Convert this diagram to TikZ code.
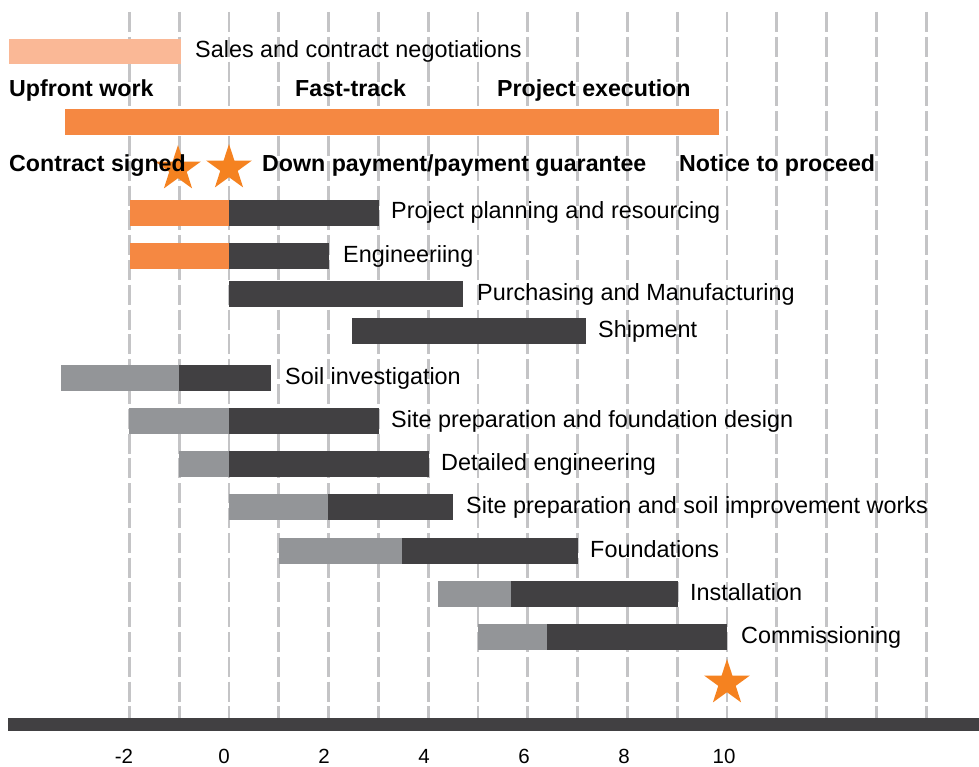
\documentclass[tikz,border=0pt]{standalone}
\usepackage{fontspec}
\setmainfont{Liberation Sans}
\definecolor{gridgray}{RGB}{196,196,198}
\definecolor{bardark}{RGB}{65,64,66}
\definecolor{bargray}{RGB}{147,149,152}
\definecolor{barorange}{RGB}{245,136,66}
\definecolor{barlight}{RGB}{250,184,150}
\definecolor{starorange}{RGB}{245,130,32}
\begin{document}
\begin{tikzpicture}[x=1pt,y=-1pt,
  gridline/.style={draw=gridgray, line width=2.8pt, dash pattern=on 20pt off 4.8pt},
  darkbar/.style={fill=bardark},
  graybar/.style={fill=bargray},
  orangebar/.style={fill=barorange},
  lightbar/.style={fill=barlight},
  lbl/.style={anchor=base west, inner sep=0pt, font=\fontsize{23.4}{27}\selectfont},
  blbl/.style={anchor=base west, inner sep=0pt, font=\fontsize{23.2}{27}\selectfont\bfseries},
  axlbl/.style={anchor=base, inner sep=0pt, font=\fontsize{20.5}{23}\selectfont},
  ostar/.pic={\fill[starorange] (-90:24) -- (-54:9.2) -- (-18:24) -- (18:9.2) -- (54:24) -- (90:9.2) -- (126:24) -- (162:9.2) -- (198:24) -- (234:9.2) -- cycle;}
]
\useasboundingbox (0,0) rectangle (979,767);

% vertical dashed grid lines (-2 .. 14)
\foreach \v in {-2,...,14} {
  \draw[gridline] ({229+49.8*\v},12) -- ({229+49.8*\v},718);
}

% top bars
\fill[lightbar] (9,39) rectangle (181,64);
\fill[orangebar] (65,109) rectangle (719,135);

% work package bars
\fill[orangebar] (130,200) rectangle (229,226);
\fill[darkbar] (229,200) rectangle (379,226);
\fill[orangebar] (130,243) rectangle (229,269);
\fill[darkbar] (229,243) rectangle (329,269);
\fill[darkbar] (229,281) rectangle (463,307);
\fill[darkbar] (352,318) rectangle (586,344);

\fill[graybar] (61,365) rectangle (179,391);
\fill[darkbar] (179,365) rectangle (271,391);
\fill[graybar] (129,408) rectangle (229,434);
\fill[darkbar] (229,408) rectangle (379,434);
\fill[graybar] (179,451) rectangle (229,477);
\fill[darkbar] (229,451) rectangle (429,477);
\fill[graybar] (229,494) rectangle (328,520);
\fill[darkbar] (328,494) rectangle (453,520);
\fill[graybar] (279,538) rectangle (402,564);
\fill[darkbar] (402,538) rectangle (578,564);
\fill[graybar] (438,581) rectangle (511,607);
\fill[darkbar] (511,581) rectangle (678,607);
\fill[graybar] (478,624) rectangle (547,650);
\fill[darkbar] (547,624) rectangle (727,650);

% axis bar
\fill[bardark] (8,718) rectangle (979,731);

% stars
\pic at (178,169) {ostar};
\pic at (229,168) {ostar};
\pic at (727,683) {ostar};

% labels
\node[lbl] (sales) at (195,58) {Sales and contract negotiations};
\node[blbl] (upfront) at (9,97) {Upfront work};
\node[blbl] (fast) at (295,97) {Fast-track};
\node[blbl] (exec) at (497,97) {Project execution};
\node[blbl] (contract) at (9,172) {Contract signed};
\node[blbl] (down) at (262,172) {Down payment/payment guarantee};
\node[blbl] (notice) at (679,172) {Notice to proceed};

\node[lbl] (l1) at (391,219) {Project planning and resourcing};
\node[lbl] (l2) at (343,262) {Engineeriing};
\node[lbl] (l3) at (477,300) {Purchasing and Manufacturing};
\node[lbl] (l4) at (598,337) {Shipment};
\node[lbl] (l5) at (285,384) {Soil investigation};
\node[lbl] (l6) at (391,427) {Site preparation and foundation design};
\node[lbl] (l7) at (441,470) {Detailed engineering};
\node[lbl] (l8) at (466,513) {Site preparation and soil improvement works};
\node[lbl] (l9) at (590,557) {Foundations};
\node[lbl] (l10) at (690,600) {Installation};
\node[lbl] (l11) at (741,643) {Commissioning};

% axis labels
\foreach \v in {-2,0,2,4,6,8,10} {
  \node[axlbl] (ax\v) at ({224+50*\v},763) {\v};
}
\end{tikzpicture}
\end{document}
